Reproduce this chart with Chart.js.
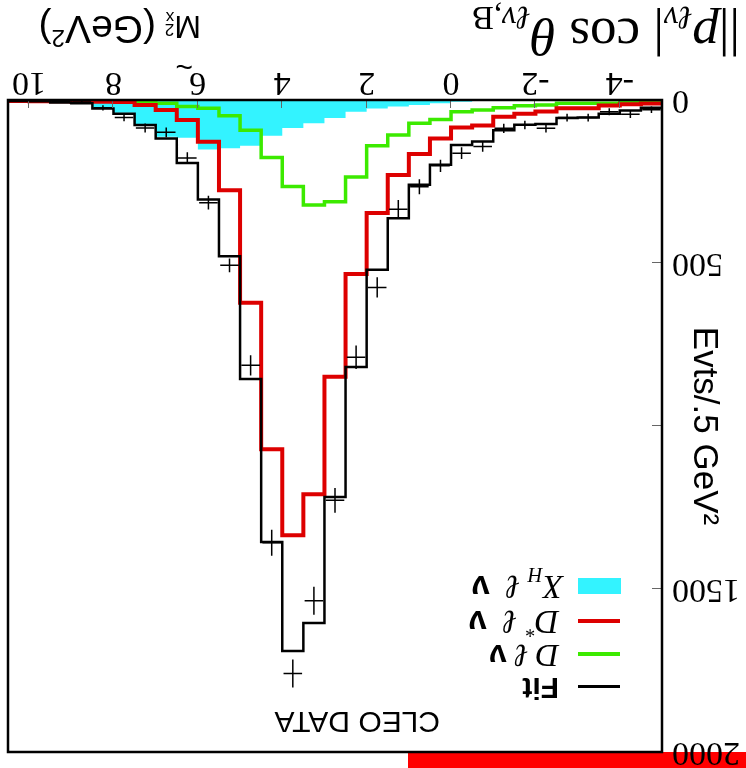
<!DOCTYPE html>
<html>
<head>
<meta charset="utf-8">
<script src="https://cdn.jsdelivr.net/npm/chart.js@4.4.1/dist/chart.umd.min.js"></script>
<style>
  html, body { margin: 0; padding: 0; background: #fff; }
  /* the reference figure is printed upside down, so the whole page is turned */
  #fig { position: relative; width: 746px; height: 768px; overflow: hidden; transform: rotate(180deg); background: #fff; }
  #plot { position: absolute; left: 0; top: 0; width: 746px; height: 768px; }
  .t { position: absolute; white-space: nowrap; line-height: 1; color: #000; }
  .serif { font-family: 'Liberation Serif', serif; }
  .sans { font-family: 'Liberation Sans', sans-serif; }
  .m { font-style: italic; }
  .nu { font-family: 'Liberation Sans', sans-serif; font-weight: bold; font-style: normal; }
  .sw { position: absolute; }
  sub, sup { font-size: 0.62em; line-height: 0; }
</style>
</head>
<body>
<div id="fig">
  <!-- red strip sits under the canvas so the 2000 label shows over it -->
  <div class="sw" style="left:0;top:0;width:338px;height:16px;background:#ff0000;"></div>
  <div id="plot"><canvas id="c"></canvas></div>

  <div class="t sans" style="left:306px;top:31px;font-size:30px;">CLEO DATA</div>

  <!-- legend -->
  <div class="sw" style="left:126px;top:80px;width:42px;height:3px;background:#000;"></div>
  <div class="sw" style="left:126px;top:112px;width:42px;height:4px;background:#3cea00;"></div>
  <div class="sw" style="left:126px;top:145px;width:42px;height:4px;background:#dd0000;"></div>
  <div class="sw" style="left:125px;top:174px;width:43px;height:16px;background:#33f3ff;"></div>
  <div class="t sans" style="left:187px;top:65px;font-size:30px;font-weight:bold;">Fit</div>
  <div class="t serif" style="left:187px;top:96px;font-size:32px;"><span class="m">D</span> <span class="m">ℓ</span> <span class="nu">ν</span></div>
  <div class="t serif" style="left:187px;top:129px;font-size:33px;"><span class="m">D</span><sup>*</sup>&nbsp;<span class="m">ℓ</span>&nbsp; <span class="nu">ν</span></div>
  <div class="t serif" style="left:183px;top:164px;font-size:33px;"><span class="m">X</span><sub class="m">H</sub>&nbsp;<span class="m">ℓ</span>&nbsp; <span class="nu">ν</span></div>

  <!-- axis titles along the bottom -->
  <div class="t serif" style="left:6px;top:705px;font-size:53px;">||<span class="m">p</span><sub class="m">ℓν</sub>| cos <span class="m">θ</span><sub><span class="m">ℓν</span>,B</sub></div>
  <div class="t sans" style="left:553px;top:686px;font-size:30px;">~</div>
  <div class="t sans" style="left:545px;top:719px;font-size:32px;">M<span style="display:inline-block;vertical-align:-4px;line-height:0.7;font-size:17px;text-align:left;">2<br>x</span> <span style="font-size:39px;">(GeV<sup>2</sup>)</span></div>
</div>

<script>
// bins of 0.5 GeV^2, lower edges
const binLow = [-5, -4.5, -4, -3.5, -3, -2.5, -2, -1.5, -1, -0.5, 0, 0.5, 1, 1.5, 2, 2.5,
                3, 3.5, 4, 4.5, 5, 5.5, 6, 6.5, 7, 7.5, 8, 8.5, 9, 9.5, 10];
const binWidth = 0.5;

const fitVals   = [24, 32, 42, 54, 55, 74, 76, 93, 127, 138, 199, 260, 363, 521, 819, 1218,
                   1604, 1690, 1356, 856, 479, 305, 193, 118, 77, 42, 26, 10, 8, 4, 3];
const dstarVals = [11, 13, 17, 25, 25, 35, 42, 51, 78, 84, 118, 166, 230, 347, 534, 849,
                   1209, 1335, 1071, 622, 277, 128, 61, 31, 15, 6, 5, 5, 4, 4, 3];
const dVals     = [5, 5, 10, 10, 10, 15, 18, 24, 31, 36, 60, 71, 107, 140, 236, 312,
                   322, 265, 176, 93, 48, 25, 20, 10, 5, 3, 3, 2, 2, 1, 1];
const xhVals    = [1, 1, 1, 1, 1, 1, 1, 2, 3, 5, 10, 15, 20, 26, 36, 55,
                   71, 86, 110, 140, 148, 152, 116, 113, 80, 39, 24, 4, 2, 1, 0];
const dataVals  = [30, 44, 36, 54, 54, 87, 77, 87, 143, 163, 202, 266, 335, 575, 789, 1228,
                   1536, 1759, 1358, 814, 507, 315, 178, 99, 86, 54, 24, 6, 5, 3, 2];
const dataErr   = [10, 11, 11, 12, 12, 13, 13, 14, 16, 18, 19, 23, 28, 31, 36, 38,
                   43, 43, 40, 31, 21, 21, 18, 15, 14, 11, 8, 3, 3, 2, 2];

const xTicks = [-4, -2, 0, 2, 4, 6, 8, 10];
const yTicks = [0, 500, 1000, 1500, 2000];
const yTickLabels = ['0', '500', '', '1500', '2000'];

function stepPoints(vals) {
    const pts = binLow.map((x, i) => ({ x: x, y: vals[i] }));
    pts.push({ x: binLow[binLow.length - 1] + binWidth, y: vals[vals.length - 1] });
    return pts;
}

function histo(label, vals, color, width, order) {
    return {
        label: label,
        data: stepPoints(vals),
        stepped: 'before',
        borderColor: color,
        borderWidth: width,
        pointRadius: 0,
        fill: false,
        order: order,
        borderJoinStyle: 'miter'
    };
}

// data crosses: vertical error + horizontal bin width
const errorBars = {
    id: 'errorBars',
    afterDatasetsDraw(chart) {
        const { ctx, chartArea: a, scales: { x, y } } = chart;
        ctx.save();
        ctx.beginPath();
        ctx.rect(a.left, a.top, a.width, a.height);
        ctx.clip();
        ctx.strokeStyle = '#000';
        ctx.lineWidth = 1.5;
        binLow.forEach((lo, i) => {
            const xc = x.getPixelForValue(lo + binWidth / 2);
            const x0 = x.getPixelForValue(lo + 0.03);
            const x1 = x.getPixelForValue(lo + binWidth - 0.03);
            const yc = y.getPixelForValue(dataVals[i]);
            const ylo = y.getPixelForValue(dataVals[i] - dataErr[i]);
            const yhi = y.getPixelForValue(dataVals[i] + dataErr[i]);
            ctx.beginPath();
            ctx.moveTo(x0, yc); ctx.lineTo(x1, yc);
            ctx.moveTo(xc, ylo); ctx.lineTo(xc, yhi);
            ctx.stroke();
        });
        ctx.restore();
    }
};

// frame and small inner tick marks
const frame = {
    id: 'frame',
    afterDraw(chart) {
        const { ctx, chartArea: a, scales: { x, y } } = chart;
        ctx.save();
        ctx.strokeStyle = '#666';
        ctx.lineWidth = 1;
        ctx.beginPath();
        xTicks.forEach(v => {
            const px = Math.round(x.getPixelForValue(v)) + 0.5;
            ctx.moveTo(px, a.bottom); ctx.lineTo(px, a.bottom - 8);
        });
        yTicks.slice(1, -1).forEach(v => {
            const py = Math.round(y.getPixelForValue(v)) + 0.5;
            ctx.moveTo(a.left, py); ctx.lineTo(a.left + 10, py);
        });
        ctx.stroke();
        ctx.strokeStyle = '#000';
        ctx.lineWidth = 2.5;
        ctx.strokeRect(a.left, a.top, a.width, a.height);
        ctx.restore();
    }
};

new Chart(document.getElementById('c').getContext('2d'), {
    type: 'line',
    data: {
        datasets: [
            histo('Fit', fitVals, '#000000', 2.5, 1),
            histo('D* l v', dstarVals, '#dd0000', 4, 2),
            histo('D l v', dVals, '#3cea00', 3.5, 3),
            {
                label: 'X_H l v',
                data: stepPoints(xhVals),
                stepped: 'before',
                borderColor: 'rgba(0,0,0,0)',
                borderWidth: 0,
                backgroundColor: '#33f3ff',
                fill: 'origin',
                pointRadius: 0,
                order: 4
            }
        ]
    },
    options: {
        responsive: true,
        maintainAspectRatio: false,
        animation: false,
        layout: { padding: { top: 16, right: 8, left: 0, bottom: 0 } },
        plugins: { legend: { display: false }, tooltip: { enabled: false } },
        scales: {
            x: {
                type: 'linear',
                min: -5,
                max: 10.5,
                grid: { display: false, drawTicks: false },
                border: { display: false },
                afterBuildTicks: s => { s.ticks = xTicks.map(v => ({ value: v })); },
                afterFit: s => { s.height = 100; s.paddingLeft = 0; s.paddingRight = 0; },
                ticks: {
                    color: '#000',
                    padding: -2,
                    maxRotation: 0,
                    autoSkip: false,
                    font: { family: 'Liberation Serif', size: 34 },
                    callback: v => String(v)
                }
            },
            y: {
                min: 0,
                max: 2000,
                grid: { display: false, drawTicks: false },
                border: { display: false },
                afterBuildTicks: s => { s.ticks = yTicks.map(v => ({ value: v })); },
                afterFit: s => { s.width = 84; s.paddingTop = 0; s.paddingBottom = 0; },
                ticks: {
                    color: '#000',
                    padding: 10,
                    autoSkip: false,
                    font: { family: 'Liberation Serif', size: 34 },
                    callback: (v, i) => yTickLabels[i]
                },
                title: {
                    display: true,
                    text: 'Evts/.5 GeV²',
                    color: '#000',
                    padding: { top: 21, bottom: 0 },
                    font: { family: 'Liberation Sans', size: 35 }
                }
            }
        }
    },
    plugins: [errorBars, frame]
});
</script>
</body>
</html>
